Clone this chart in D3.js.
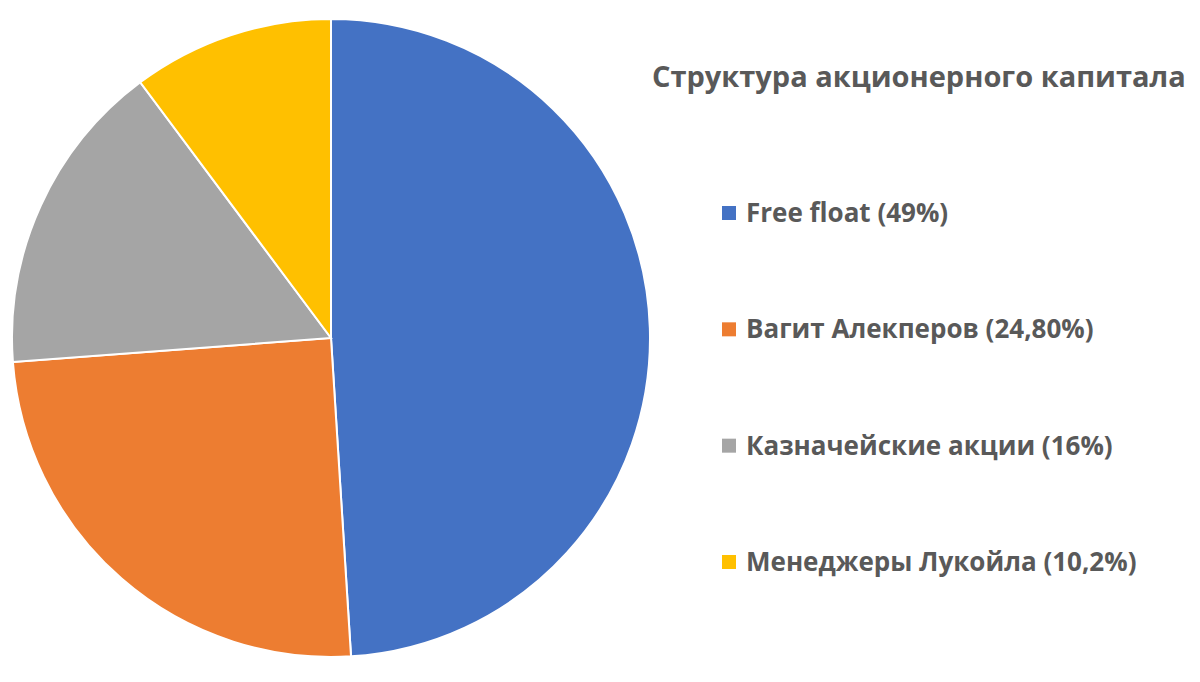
<!DOCTYPE html>
<html>
<head>
<meta charset="utf-8">
<script src="https://cdn.jsdelivr.net/npm/d3@7"></script>
<style>
  body { margin: 0; background: #fff; }
  text { font-family: "Open Sans", sans-serif; font-weight: bold; fill: #595959; }
</style>
</head>
<body>
<div id="chart"></div>
<script>
// Chart data
var labels = ["Free float (49%)", "Вагит Алекперов (24,80%)", "Казначейские акции (16%)", "Менеджеры Лукойла (10,2%)"];
var shares = [49, 24.8, 16, 10.2];
var colors = ["#4472C4", "#ED7D31", "#A5A5A5", "#FFC000"];
var title = "Структура акционерного капитала";

var svgWidth = 1200;
var svgHeight = 682;

var svg = d3.select("#chart")
  .append("svg")
  .attr("width", svgWidth)
  .attr("height", svgHeight);

// Pie
var cx = 331, cy = 338, radius = 319;

var pie = d3.pie().sort(null).value(d => d);
var arc = d3.arc().innerRadius(0).outerRadius(radius);

var pieGroup = svg.append("g")
  .attr("transform", `translate(${cx}, ${cy})`);

pieGroup.selectAll("path")
  .data(pie(shares))
  .enter()
  .append("path")
  .attr("d", arc)
  .attr("fill", (d, i) => colors[i])
  .attr("stroke", "#fff")
  .attr("stroke-width", 2);

// Title
svg.append("text")
  .attr("x", 652)
  .attr("y", 87)
  .style("font-size", "29px")
  .text(title);

// Legend
var legendY = d3.scalePoint()
  .domain(labels)
  .range([213, 562]);

var legend = svg.append("g");

var items = legend.selectAll("g")
  .data(labels)
  .enter()
  .append("g")
  .attr("transform", d => `translate(722, ${legendY(d)})`);

items.append("rect")
  .attr("x", 0)
  .attr("y", -7)
  .attr("width", 14)
  .attr("height", 14)
  .attr("fill", (d, i) => colors[i]);

items.append("text")
  .attr("x", 24)
  .attr("y", 0)
  .attr("dy", "0.35em")
  .style("font-size", "26px")
  .text(d => d);
</script>
</body>
</html>
